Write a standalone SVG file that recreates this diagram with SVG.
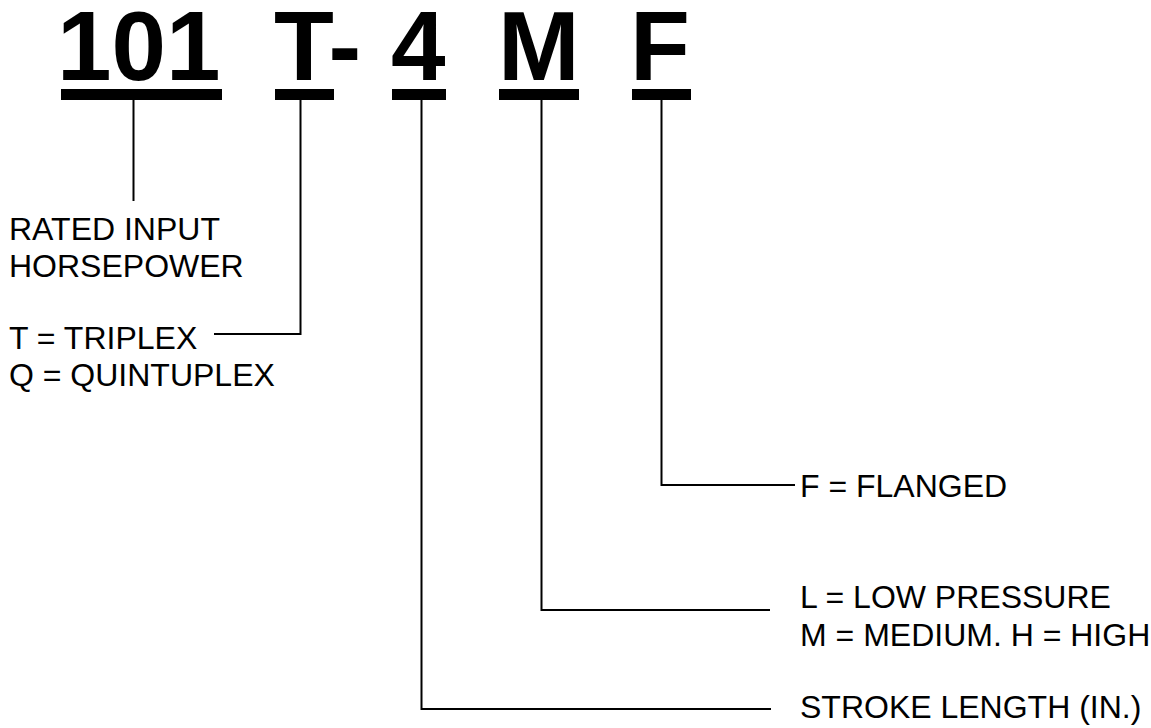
<svg xmlns="http://www.w3.org/2000/svg" width="1151" height="728" viewBox="0 0 1151 728">
<style>
.big{font-family:"Liberation Sans",Arial,sans-serif;font-weight:bold;font-size:98px;fill:#000}
.lbl{font-family:"Liberation Sans",Arial,sans-serif;font-size:32px;fill:#000}
.bar{fill:#000}
.ln{fill:none;stroke:#000;stroke-width:2}
</style>
<rect width="1151" height="728" fill="#fff"/>
<g id="code-101"><text class="big" x="57" y="80">101</text><rect class="bar" x="61" y="89" width="161" height="11"/></g>
<g id="code-T"><text class="big" x="274" y="80">T-</text><rect class="bar" x="275" y="89" width="59" height="11"/></g>
<g id="code-4"><text class="big" x="391" y="80">4</text><rect class="bar" x="392" y="89" width="54" height="11"/></g>
<g id="code-M"><text class="big" x="498" y="80">M</text><rect class="bar" x="499" y="89" width="80" height="11"/></g>
<g id="code-F"><text class="big" x="630" y="80">F</text><rect class="bar" x="632" y="89" width="59" height="11"/></g>
<g id="connectors">
<path class="ln" d="M133.5 100V201"/>
<path class="ln" d="M300.5 100V334H214"/>
<path class="ln" d="M661.5 100V485H795"/>
<path class="ln" d="M541.5 100V610H770"/>
<path class="ln" d="M421.5 100V709H771"/>
</g>
<g id="label-hp"><text class="lbl" x="9" y="240">RATED INPUT</text><text class="lbl" x="9" y="277">HORSEPOWER</text></g>
<g id="label-type"><text class="lbl" x="9" y="349">T = TRIPLEX</text><text class="lbl" x="9" y="386">Q = QUINTUPLEX</text></g>
<g id="label-f"><text class="lbl" x="800" y="497">F = FLANGED</text></g>
<g id="label-p"><text class="lbl" x="800" y="608">L = LOW PRESSURE</text><text class="lbl" x="800" y="646">M = MEDIUM. H = HIGH</text></g>
<g id="label-s"><text class="lbl" x="800" y="718">STROKE LENGTH (IN.)</text></g>
</svg>
